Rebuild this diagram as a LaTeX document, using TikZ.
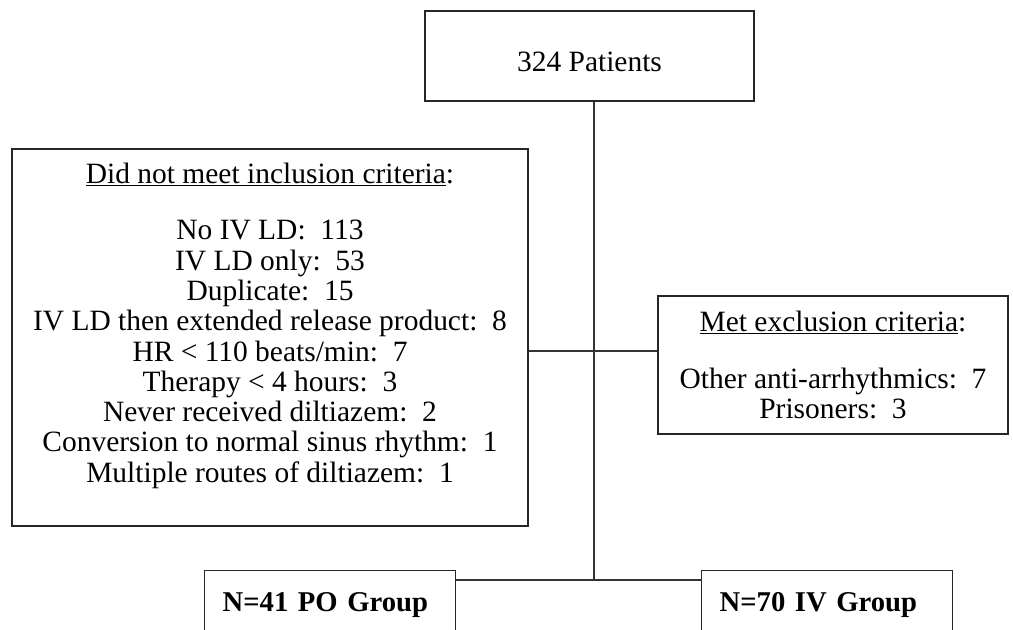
\documentclass[tikz,border=0pt]{standalone}
\usepackage{fontspec}
\setmainfont{Liberation Serif}

\begin{document}
\begin{tikzpicture}[x=0.75pt, y=-0.75pt,
  box/.style={draw=black!85, line width=1pt, align=center, inner sep=0pt,
    font=\fontsize{22.1}{22.7}\selectfont},
  group/.style={draw=black!85, line width=1pt, anchor=north west, align=left,
    inner xsep=13.5pt, inner ysep=0pt, text width=161.25pt,
    text height=30.75pt, text depth=29.25pt,
    font=\fontsize{21.5}{22.5}\selectfont\bfseries},
  link/.style={draw=black!80, line width=0.8pt}]

\useasboundingbox (0,0) rectangle (1013,630);
\clip (0,0) rectangle (1013,630);

\node[box, minimum width=246.75pt, minimum height=67.5pt, text height=23.6pt] (total) at (589.5,56) {324 Patients};

% did not meet inclusion
\node[box, minimum width=387pt, minimum height=282.75pt] (incl) at (270,337.5)
  {\underline{Did not meet inclusion criteria}:\\[20pt]
   No IV LD:~~113\\
   IV LD only:~~53\\
   Duplicate:~~15\\
   IV LD then extended release product:~~8\\
   HR < 110 beats/min:~~7\\
   Therapy < 4 hours:~~3\\
   Never received diltiazem:~~2\\
   Conversion to normal sinus rhythm:~~1\\
   Multiple routes of diltiazem:~~1\\
   \mbox{}};

% met exclusion
\node[box, minimum width=262.5pt, minimum height=103.5pt] (excl) at (833,365)
  {\underline{Met exclusion criteria}:\\[20pt]
   Other anti-arrhythmics:~~7\\
   Prisoners:~~3};

\node[group] (po) at (204,570) {N=41 PO Group};
\node[group] (iv) at (701,570) {N=70 IV Group};

\coordinate (side) at (594,351);
\coordinate (split) at (594,580);

\draw[link] (total.south -| split) -- (split);
\draw[link] (incl.east |- side) -- (excl.west |- side);
\draw[link] (po.east |- split) -- (iv.west |- split);

\end{tikzpicture}
\end{document}
